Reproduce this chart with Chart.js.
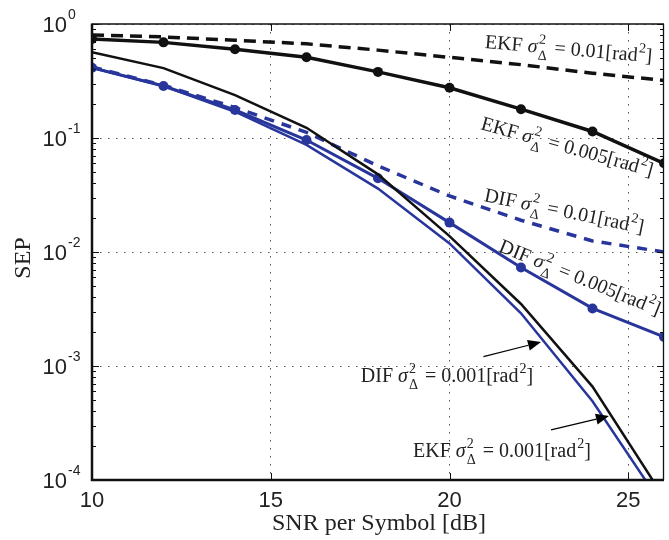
<!DOCTYPE html>
<html>
<head>
<meta charset="utf-8">
<title>SEP vs SNR per Symbol</title>
<script src="https://cdn.jsdelivr.net/npm/chart.js@4.4.1/dist/chart.umd.min.js"></script>
<style>
  html, body { margin: 0; padding: 0; background: #fff; overflow: hidden; }
  #wrap { width: 669px; height: 540px; }
</style>
</head>
<body>
<div id="wrap"><canvas id="sepChart" width="669" height="540"></canvas></div>
<script>
// =========================
// Data: SEP per SNR, for each estimator and phase-noise variance
// =========================
const snrDb = [10, 12, 14, 16, 18, 20, 22, 24, 26];

const ekfSep01 = [0.80, 0.77, 0.72, 0.67, 0.59, 0.51, 0.44, 0.37, 0.32];
const ekfSep005 = [0.74, 0.69, 0.60, 0.51, 0.38, 0.276, 0.179, 0.114, 0.060];
const ekfSep001 = [0.565, 0.41, 0.238, 0.123, 0.048, 0.0138, 0.0035, 0.00066, 0.00007];

const difSep01 = [0.42, 0.29, 0.185, 0.112, 0.057, 0.031, 0.019, 0.0125, 0.010];
const difSep005 = [0.414, 0.286, 0.176, 0.096, 0.0443, 0.0181, 0.0073, 0.0032, 0.0018];
const difSep001 = [0.414, 0.286, 0.17, 0.087, 0.036, 0.0119, 0.0029, 0.00049, 0.000057];

const xTicks = [10, 15, 20, 25];
const yTickExp = [-4, -3, -2, -1, 0];

// Curve labels, anchored in data units (left end of baseline)
const curveLabels = [
  { name: "EKF", value: "0.01", x: 20.98, y: 0.616, angle: 4.9 },
  { name: "EKF", value: "0.005", x: 20.85, y: 0.12, angle: 15.5 },
  { name: "DIF", value: "0.01", x: 20.95, y: 0.028, angle: 11.5 },
  { name: "DIF", value: "0.005", x: 21.35, y: 0.0102, angle: 22 },
  { name: "DIF", value: "0.001", x: 17.52, y: 7.24e-4, angle: 0 },
  { name: "EKF", value: "0.001", x: 18.98, y: 1.59e-4, angle: 0 },
];

// Pointer arrows (tail -> tip), data units
const pointerArrows = [
  { x1: 20.95, y1: 1.21e-3, x2: 22.56, y2: 1.62e-3 },
  { x1: 22.84, y1: 2.75e-4, x2: 24.46, y2: 3.64e-4 },
];

const BLUE = "#28369c";
const BLACK = "#111";
const SANS = '"Liberation Sans", Arial, Helvetica, sans-serif';
const SERIF = '"Liberation Serif", "Times New Roman", serif';

const toPoints = (vals) => snrDb.map((x, i) => ({ x, y: vals[i] }));

function series(vals, color, width, dash, markers) {
  return {
    data: toPoints(vals),
    borderColor: color,
    backgroundColor: color,
    borderWidth: width,
    borderDash: dash,
    pointRadius: markers ? 5 : 0,
    pointHoverRadius: 0,
    pointBorderWidth: 0,
    pointBackgroundColor: color,
    tension: 0,
  };
}

// =========================
// Math-style label: NAME sigma^2_Delta = v[rad^2]
// =========================
function drawSigmaLabel(ctx, lab, px, py) {
  const roman = `20px ${SERIF}`;
  const italic = `italic 20px ${SERIF}`;
  const small = `14px ${SERIF}`;
  ctx.save();
  ctx.translate(px, py);
  ctx.rotate((lab.angle * Math.PI) / 180);
  ctx.fillStyle = "#222";
  ctx.textAlign = "left";
  ctx.textBaseline = "alphabetic";
  let x = 0;
  const put = (text, font) => {
    ctx.font = font;
    ctx.fillText(text, x, 0);
    x += ctx.measureText(text).width;
  };
  put(lab.name + " ", roman);
  put("σ", italic);
  ctx.font = small;
  ctx.fillText("2", x + 1, -9);
  ctx.fillText("Δ", x + 1, 7);
  x += ctx.measureText("Δ").width + 3;
  put(" = " + lab.value + "[rad", roman);
  ctx.font = small;
  ctx.fillText("2", x + 1, -9);
  x += ctx.measureText("2").width + 1;
  put("]", roman);
  ctx.restore();
}

function drawArrow(ctx, x1, y1, x2, y2) {
  const ang = Math.atan2(y2 - y1, x2 - x1);
  const len = 13, half = 5.5;
  ctx.save();
  ctx.strokeStyle = "#000";
  ctx.fillStyle = "#000";
  ctx.lineWidth = 1.2;
  ctx.beginPath();
  ctx.moveTo(x1, y1);
  ctx.lineTo(x2 - len * Math.cos(ang), y2 - len * Math.sin(ang));
  ctx.stroke();
  ctx.translate(x2, y2);
  ctx.rotate(ang);
  ctx.beginPath();
  ctx.moveTo(0, 0);
  ctx.lineTo(-len, -half);
  ctx.lineTo(-len, half);
  ctx.closePath();
  ctx.fill();
  ctx.restore();
}

// =========================
// Frame, inward ticks, y labels, axis titles, curve labels
// =========================
const decorPlugin = {
  id: "decor",
  afterDraw(chart) {
    const { ctx, chartArea: a, scales } = chart;
    const xs = scales.x, ys = scales.y;

    ctx.save();
    ctx.strokeStyle = "#111";

    // minor + major ticks on y (both sides)
    ctx.lineWidth = 1;
    for (let e = -4; e < 0; e++) {
      for (let m = 2; m <= 9; m++) {
        const py = Math.round(ys.getPixelForValue(m * Math.pow(10, e))) + 0.5;
        ctx.beginPath();
        ctx.moveTo(a.left, py); ctx.lineTo(a.left + 4, py);
        ctx.moveTo(a.right, py); ctx.lineTo(a.right - 4, py);
        ctx.stroke();
      }
    }
    yTickExp.forEach((e) => {
      const py = Math.round(ys.getPixelForValue(Math.pow(10, e))) + 0.5;
      ctx.beginPath();
      ctx.moveTo(a.left, py); ctx.lineTo(a.left + 7, py);
      ctx.moveTo(a.right, py); ctx.lineTo(a.right - 7, py);
      ctx.stroke();
    });
    xTicks.forEach((v) => {
      const px = Math.round(xs.getPixelForValue(v)) + 0.5;
      ctx.beginPath();
      ctx.moveTo(px, a.bottom); ctx.lineTo(px, a.bottom - 7);
      ctx.moveTo(px, a.top); ctx.lineTo(px, a.top + 7);
      ctx.stroke();
    });

    // box
    ctx.lineWidth = 1.3;
    ctx.beginPath();
    ctx.moveTo(a.left, a.top); ctx.lineTo(a.right, a.top);
    ctx.moveTo(a.right - 0.5, a.top); ctx.lineTo(a.right - 0.5, a.bottom);
    ctx.stroke();
    ctx.lineWidth = 2.5;
    ctx.beginPath();
    ctx.moveTo(a.left, a.top - 0.6); ctx.lineTo(a.left, a.bottom);
    ctx.lineTo(a.right, a.bottom);
    ctx.stroke();

    // y tick labels 10^n
    ctx.fillStyle = "#222";
    yTickExp.forEach((e) => {
      const py = ys.getPixelForValue(Math.pow(10, e));
      ctx.font = `22px ${SANS}`;
      ctx.textAlign = "right";
      ctx.textBaseline = "middle";
      ctx.fillText("10", a.left - 25, py + 2);
      ctx.font = `14px ${SANS}`;
      ctx.textAlign = "left";
      ctx.textBaseline = "alphabetic";
      ctx.fillText(String(e), a.left - 24, py - 5);
    });

    // axis titles
    ctx.font = `24px ${SERIF}`;
    ctx.textAlign = "center";
    ctx.textBaseline = "alphabetic";
    ctx.fillText("SNR per Symbol [dB]", (a.left + a.right) / 2 + 1, 530);
    ctx.save();
    ctx.translate(30, (a.top + a.bottom) / 2 + 6);
    ctx.rotate(-Math.PI / 2);
    ctx.fillText("SEP", 0, 0);
    ctx.restore();
    ctx.restore();

    curveLabels.forEach((lab) => {
      drawSigmaLabel(ctx, lab, xs.getPixelForValue(lab.x), ys.getPixelForValue(lab.y));
    });
    pointerArrows.forEach((ar) => {
      drawArrow(
        ctx,
        xs.getPixelForValue(ar.x1), ys.getPixelForValue(ar.y1),
        xs.getPixelForValue(ar.x2), ys.getPixelForValue(ar.y2)
      );
    });
  },
};

// =========================
// Chart
// =========================
document.addEventListener("DOMContentLoaded", () => {
  const ctx = document.getElementById("sepChart");
  new Chart(ctx, {
    type: "line",
    data: {
      datasets: [
        series(ekfSep01, BLACK, 3.5, [12, 7], false),
        series(ekfSep005, BLACK, 3.5, [], true),
        series(ekfSep001, BLACK, 2.5, [], false),
        series(difSep01, BLUE, 3.5, [10, 8], false),
        series(difSep005, BLUE, 3, [], true),
        series(difSep001, BLUE, 2.5, [], false),
      ],
    },
    options: {
      responsive: false,
      animation: false,
      events: [],
      layout: { padding: { top: 24, left: 0, right: 0, bottom: 0 } },
      plugins: {
        legend: { display: false },
        tooltip: { enabled: false },
      },
      scales: {
        x: {
          type: "linear",
          min: 10,
          max: 26,
          afterBuildTicks: (s) => {
            s.ticks = xTicks.map((v) => ({ value: v }));
          },
          afterFit: (s) => {
            s.height = 60;
          },
          ticks: {
            color: "#222",
            font: { family: SANS, size: 22 },
            padding: 8,
            maxRotation: 0,
          },
          grid: { color: "#555", lineWidth: 1, drawTicks: false },
          border: { display: false, dash: [1.5, 6.5] },
        },
        y: {
          type: "logarithmic",
          min: 1e-4,
          max: 1,
          afterBuildTicks: (s) => {
            s.ticks = yTickExp.map((e) => ({ value: Math.pow(10, e), major: true }));
          },
          afterFit: (s) => {
            s.width = 92;
          },
          ticks: { display: false },
          grid: { color: "#555", lineWidth: 1, drawTicks: false },
          border: { display: false, dash: [1.5, 6.5] },
        },
      },
    },
    plugins: [decorPlugin],
  });
});
</script>
</body>
</html>
